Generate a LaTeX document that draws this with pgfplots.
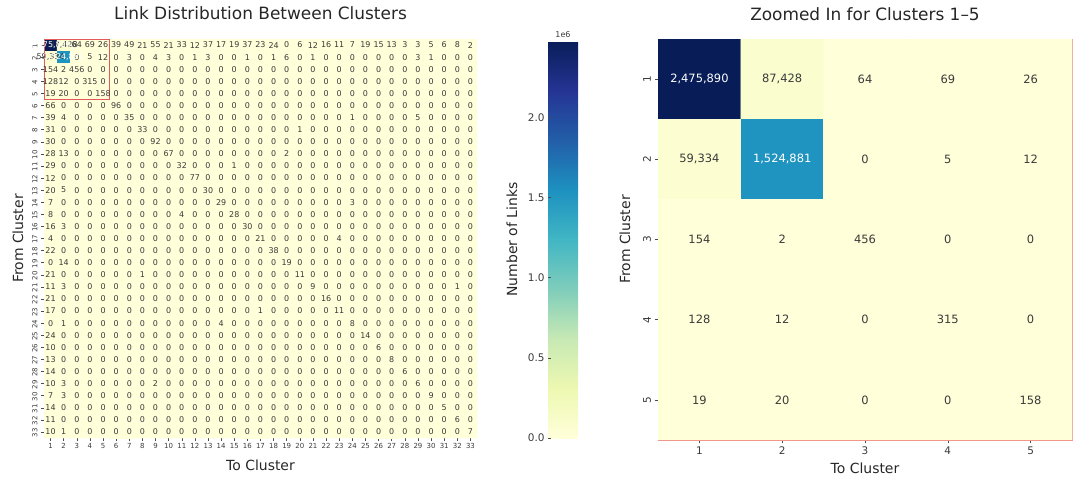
\documentclass[border=0pt]{standalone}
\usepackage{fontspec}
\setmainfont{DejaVu Sans}
\usepackage{pgfplots}
\usepackage{pgfplotstable}
\pgfplotsset{compat=1.18}
\pgfplotsset{
  colormap={ylgnbu}{rgb255=(255,255,217) rgb255=(237,248,177) rgb255=(199,233,180) rgb255=(127,205,187) rgb255=(65,182,196) rgb255=(29,145,192) rgb255=(34,94,168) rgb255=(37,52,148) rgb255=(8,29,88)}
}
\definecolor{annot}{HTML}{3A3A3A}
\definecolor{boxred}{RGB}{228,90,90}
\definecolor{framered}{RGB}{240,150,140}

% 33 x 33 matrix, row by row (From Cluster 1..33), columns To Cluster 1..33
\pgfplotstableread[row sep=\\]{
c\\
2475890\\87428\\64\\69\\26\\39\\49\\21\\55\\21\\33\\12\\37\\17\\19\\37\\23\\24\\0\\6\\12\\16\\11\\7\\19\\15\\13\\3\\3\\5\\6\\8\\2\\
59334\\1524881\\0\\5\\12\\0\\3\\0\\4\\3\\ 0\\1\\3\\0\\0\\1\\0\\1\\6\\0\\ 1\\0\\0\\0\\0\\0\\0\\0\\3\\1\\ 0\\0\\0\\
154\\2\\456\\0\\0\\0\\0\\0\\0\\0\\ 0\\0\\0\\0\\0\\0\\0\\0\\0\\0\\ 0\\0\\0\\0\\0\\0\\0\\0\\0\\0\\ 0\\0\\0\\
128\\12\\0\\315\\0\\0\\0\\0\\0\\0\\ 0\\0\\0\\0\\0\\0\\0\\0\\0\\0\\ 0\\0\\0\\0\\0\\0\\0\\0\\0\\0\\ 0\\0\\0\\
19\\20\\0\\0\\158\\0\\0\\0\\0\\0\\ 0\\0\\0\\0\\0\\0\\0\\0\\0\\0\\ 0\\0\\0\\0\\0\\0\\0\\0\\0\\0\\ 0\\0\\0\\
66\\0\\0\\0\\0\\96\\0\\0\\0\\0\\ 0\\0\\0\\0\\0\\0\\0\\0\\0\\0\\ 0\\0\\0\\0\\0\\0\\0\\0\\0\\0\\ 0\\0\\0\\
39\\4\\0\\0\\0\\0\\35\\0\\0\\0\\ 0\\0\\0\\0\\0\\0\\0\\0\\0\\0\\ 0\\0\\0\\1\\0\\0\\0\\0\\5\\0\\ 0\\0\\0\\
31\\0\\0\\0\\0\\0\\0\\33\\0\\0\\ 0\\0\\0\\0\\0\\0\\0\\0\\0\\1\\ 0\\0\\0\\0\\0\\0\\0\\0\\0\\0\\ 0\\0\\0\\
30\\0\\0\\0\\0\\0\\0\\0\\92\\0\\ 0\\0\\0\\0\\0\\0\\0\\0\\0\\0\\ 0\\0\\0\\0\\0\\0\\0\\0\\0\\0\\ 0\\0\\0\\
28\\13\\0\\0\\0\\0\\0\\0\\0\\67\\ 0\\0\\0\\0\\0\\0\\0\\0\\2\\0\\ 0\\0\\0\\0\\0\\0\\0\\0\\0\\0\\ 0\\0\\0\\
29\\0\\0\\0\\0\\0\\0\\0\\0\\0\\ 32\\0\\0\\0\\1\\0\\0\\0\\0\\0\\ 0\\0\\0\\0\\0\\0\\0\\0\\0\\0\\ 0\\0\\0\\
12\\0\\0\\0\\0\\0\\0\\0\\0\\0\\ 0\\77\\0\\0\\0\\0\\0\\0\\0\\0\\ 0\\0\\0\\0\\0\\0\\0\\0\\0\\0\\ 0\\0\\0\\
20\\5\\0\\0\\0\\0\\0\\0\\0\\0\\ 0\\0\\30\\0\\0\\0\\0\\0\\0\\0\\ 0\\0\\0\\0\\0\\0\\0\\0\\0\\0\\ 0\\0\\0\\
7\\0\\0\\0\\0\\0\\0\\0\\0\\0\\ 0\\0\\0\\29\\0\\0\\0\\0\\0\\0\\ 0\\0\\0\\3\\0\\0\\0\\0\\0\\0\\ 0\\0\\0\\
8\\0\\0\\0\\0\\0\\0\\0\\0\\0\\ 4\\0\\0\\0\\28\\0\\0\\0\\0\\0\\ 0\\0\\0\\0\\0\\0\\0\\0\\0\\0\\ 0\\0\\0\\
16\\3\\0\\0\\0\\0\\0\\0\\0\\0\\ 0\\0\\0\\0\\0\\30\\0\\0\\0\\0\\ 0\\0\\0\\0\\0\\0\\0\\0\\0\\0\\ 0\\0\\0\\
4\\0\\0\\0\\0\\0\\0\\0\\0\\0\\ 0\\0\\0\\0\\0\\0\\21\\0\\0\\0\\ 0\\0\\4\\0\\0\\0\\0\\0\\0\\0\\ 0\\0\\0\\
22\\0\\0\\0\\0\\0\\0\\0\\0\\0\\ 0\\0\\0\\0\\0\\0\\0\\38\\0\\0\\ 0\\0\\0\\0\\0\\0\\0\\0\\0\\0\\ 0\\0\\0\\
0\\14\\0\\0\\0\\0\\0\\0\\0\\0\\ 0\\0\\0\\0\\0\\0\\0\\0\\19\\0\\ 0\\0\\0\\0\\0\\0\\0\\0\\0\\0\\ 0\\0\\0\\
21\\0\\0\\0\\0\\0\\0\\1\\0\\0\\ 0\\0\\0\\0\\0\\0\\0\\0\\0\\11\\ 0\\0\\0\\0\\0\\0\\0\\0\\0\\0\\ 0\\0\\0\\
11\\3\\0\\0\\0\\0\\0\\0\\0\\0\\ 0\\0\\0\\0\\0\\0\\0\\0\\0\\0\\ 9\\0\\0\\0\\0\\0\\0\\0\\0\\0\\ 0\\1\\0\\
21\\0\\0\\0\\0\\0\\0\\0\\0\\0\\ 0\\0\\0\\0\\0\\0\\0\\0\\0\\0\\ 0\\16\\0\\0\\0\\0\\0\\0\\0\\0\\ 0\\0\\0\\
17\\0\\0\\0\\0\\0\\0\\0\\0\\0\\ 0\\0\\0\\0\\0\\0\\1\\0\\0\\0\\ 0\\0\\11\\0\\0\\0\\0\\0\\0\\0\\ 0\\0\\0\\
0\\1\\0\\0\\0\\0\\0\\0\\0\\0\\ 0\\0\\0\\4\\0\\0\\0\\0\\0\\0\\ 0\\0\\0\\8\\0\\0\\0\\0\\0\\0\\ 0\\0\\0\\
24\\0\\0\\0\\0\\0\\0\\0\\0\\0\\ 0\\0\\0\\0\\0\\0\\0\\0\\0\\0\\ 0\\0\\0\\0\\14\\0\\0\\0\\0\\0\\ 0\\0\\0\\
10\\0\\0\\0\\0\\0\\0\\0\\0\\0\\ 0\\0\\0\\0\\0\\0\\0\\0\\0\\0\\ 0\\0\\0\\0\\0\\6\\0\\0\\0\\0\\ 0\\0\\0\\
13\\0\\0\\0\\0\\0\\0\\0\\0\\0\\ 0\\0\\0\\0\\0\\0\\0\\0\\0\\0\\ 0\\0\\0\\0\\0\\0\\8\\0\\0\\0\\ 0\\0\\0\\
14\\0\\0\\0\\0\\0\\0\\0\\0\\0\\ 0\\0\\0\\0\\0\\0\\0\\0\\0\\0\\ 0\\0\\0\\0\\0\\0\\0\\6\\0\\0\\ 0\\0\\0\\
10\\3\\0\\0\\0\\0\\0\\0\\2\\0\\ 0\\0\\0\\0\\0\\0\\0\\0\\0\\0\\ 0\\0\\0\\0\\0\\0\\0\\0\\6\\0\\ 0\\0\\0\\
7\\3\\0\\0\\0\\0\\0\\0\\0\\0\\ 0\\0\\0\\0\\0\\0\\0\\0\\0\\0\\ 0\\0\\0\\0\\0\\0\\0\\0\\0\\9\\ 0\\0\\0\\
14\\0\\0\\0\\0\\0\\0\\0\\0\\0\\ 0\\0\\0\\0\\0\\0\\0\\0\\0\\0\\ 0\\0\\0\\0\\0\\0\\0\\0\\0\\0\\ 5\\0\\0\\
11\\0\\0\\0\\0\\0\\0\\0\\0\\0\\ 0\\0\\0\\0\\0\\0\\0\\0\\0\\0\\ 0\\0\\0\\0\\0\\0\\0\\0\\0\\0\\ 0\\6\\0\\
10\\1\\0\\0\\0\\0\\0\\0\\0\\0\\ 0\\0\\0\\0\\0\\0\\0\\0\\0\\0\\ 0\\0\\0\\0\\0\\0\\0\\0\\0\\0\\ 0\\0\\7\\
}\fulldata

% 5 x 5 zoomed block, row by row
\pgfplotstableread[row sep=\\]{
c\\
2475890\\87428\\64\\69\\26\\
59334\\1524881\\0\\5\\12\\
154\\2\\456\\0\\0\\
128\\12\\0\\315\\0\\
19\\20\\0\\0\\158\\
}\zoomdata

\begin{document}
\begin{tikzpicture}
\useasboundingbox (0,0) rectangle (1074bp,-480bp);

% ---------------- left heatmap ----------------
\begin{axis}[
  at={(44bp,-39bp)}, anchor=north west,
  scale only axis, width=433bp, height=399bp,
  xmin=0.5, xmax=33.5, ymin=0.5, ymax=33.5,
  enlargelimits=false,
  xtick={1,...,33}, ytick={1,...,33},
  yticklabels={33,32,31,30,29,28,27,26,25,24,23,22,21,20,19,18,17,16,15,14,13,12,11,10,9,8,7,6,5,4,3,2,1},
  /pgf/number format/assume math mode=true,
  tick label style={font=\fontsize{7}{7}\selectfont, text=annot},
  yticklabel style={rotate=90, anchor=south, xshift=-1bp},
  xticklabel style={yshift=1bp},
  tick align=outside, tick pos=left, major tick length=3bp,
  tick style={black!70, line width=0.5bp},
  axis line style={draw=none},
  colormap name=ylgnbu,
  point meta min=0, point meta max=2475890,
  title={Link Distribution Between Clusters},
  every axis title/.style={at={(0.5,1)}, anchor=base, yshift=19bp, font=\fontsize{17}{20}\selectfont, text=black!85},
  xlabel={To Cluster}, ylabel={From Cluster},
  every axis x label/.style={at={(0.5,0)}, anchor=base, yshift=-32bp, font=\fontsize{14}{16}\selectfont, text=black!85},
  every axis y label/.style={at={(0,0.5)}, xshift=-21bp, rotate=90, anchor=base, font=\fontsize{14}{16}\selectfont, text=black!85},
  colorbar,
  colorbar/width=30bp,
  colorbar style={
    at={(parent axis.north east)}, anchor=north west, xshift=62.5bp, yshift=-2bp,
    scale only axis, width=30bp, height=397bp,
    ymin=0, ymax=2475890,
    ytick={0,500000,1000000,1500000,2000000},
    yticklabels={0.0,0.5,1.0,1.5,2.0},
    scaled y ticks=false,
    yticklabel pos=left, ytick pos=left,
    yticklabel style={font=\fontsize{10.5}{12}\selectfont, text=annot},
    major tick length=3bp, tick style={black!70, line width=0.5bp},
    axis line style={draw=none},
    ylabel={Number of Links},
    every axis y label/.style={at={(0,0.5)}, xshift=-31bp, rotate=90, anchor=base, font=\fontsize{14}{16}\selectfont, text=black!85},
    title={1e6},
    every axis title/.style={at={(0.5,1)}, anchor=base, yshift=3bp, font=\fontsize{8}{9}\selectfont, text=annot},
  },
]
\addplot[matrix plot*, mesh/cols=33, point meta=explicit]
  table[x index=0, y index=0, x expr={\coordindex+1-33*floor((\coordindex+0.5)/33)}, y expr={33-floor((\coordindex+0.5)/33)}, meta=c]{\fulldata};
\addplot[draw=none, mark=none, point meta=explicit,
  nodes near coords={\pgfmathprintnumber[fixed,precision=0,1000 sep={,},assume math mode=true]{\pgfplotspointmeta}},
  every node near coord/.append style={font=\fontsize{8}{8}\selectfont, text=annot, anchor=center, inner sep=0pt},
  skip coords between index={0}{1}, skip coords between index={34}{35}]
  table[x index=0, y index=0, x expr={\coordindex+1-33*floor((\coordindex+0.5)/33)}, y expr={33-floor((\coordindex+0.5)/33)}, meta=c]{\fulldata};
\addplot[draw=none, mark=none, point meta=explicit,
  nodes near coords={\pgfmathprintnumber[fixed,precision=0,1000 sep={,},assume math mode=true]{\pgfplotspointmeta}},
  every node near coord/.append style={font=\fontsize{8}{8}\selectfont, text=white, anchor=center, inner sep=0pt}]
  coordinates {(1,33) [2475890] (2,32) [1524881]};
\draw[boxred, line width=1bp] (axis cs:0.5,33.5) rectangle (axis cs:5.5,28.5);
\end{axis}

% ---------------- right heatmap ----------------
\begin{axis}[
  at={(658bp,-39bp)}, anchor=north west,
  scale only axis, width=414bp, height=401bp,
  xmin=0.5, xmax=5.5, ymin=0.5, ymax=5.5,
  enlargelimits=false,
  xtick={1,...,5}, ytick={1,...,5},
  yticklabels={5,4,3,2,1},
  /pgf/number format/assume math mode=true,
  tick label style={font=\fontsize{10.5}{12}\selectfont, text=annot},
  yticklabel style={rotate=90, anchor=south},
  tick align=outside, tick pos=left, major tick length=3.5bp,
  tick style={black!70, line width=0.5bp},
  axis line style={draw=framered, line width=0.8bp},
  colormap name=ylgnbu,
  point meta min=0, point meta max=2475890,
  title={Zoomed In for Clusters 1–5},
  every axis title/.style={at={(0.5,1)}, anchor=base, yshift=19bp, font=\fontsize{17}{20}\selectfont, text=black!85},
  xlabel={To Cluster}, ylabel={From Cluster},
  every axis x label/.style={at={(0.5,0)}, anchor=base, yshift=-34bp, font=\fontsize{14}{16}\selectfont, text=black!85},
  every axis y label/.style={at={(0,0.5)}, xshift=-28bp, rotate=90, anchor=base, font=\fontsize{14}{16}\selectfont, text=black!85},
]
\addplot[matrix plot*, mesh/cols=5, point meta=explicit]
  table[x index=0, y index=0, x expr={\coordindex+1-5*floor((\coordindex+0.5)/5)}, y expr={5-floor((\coordindex+0.5)/5)}, meta=c]{\zoomdata};
\addplot[draw=none, mark=none, point meta=explicit,
  nodes near coords={\pgfmathprintnumber[fixed,precision=0,1000 sep={,},assume math mode=true]{\pgfplotspointmeta}},
  every node near coord/.append style={font=\fontsize{11.5}{13}\selectfont, text=annot, anchor=center, inner sep=0pt},
  skip coords between index={0}{1}, skip coords between index={6}{7}]
  table[x index=0, y index=0, x expr={\coordindex+1-5*floor((\coordindex+0.5)/5)}, y expr={5-floor((\coordindex+0.5)/5)}, meta=c]{\zoomdata};
\addplot[draw=none, mark=none, point meta=explicit,
  nodes near coords={\pgfmathprintnumber[fixed,precision=0,1000 sep={,},assume math mode=true]{\pgfplotspointmeta}},
  every node near coord/.append style={font=\fontsize{11.5}{13}\selectfont, text=white, anchor=center, inner sep=0pt}]
  coordinates {(1,5) [2475890] (2,4) [1524881]};
\end{axis}
\end{tikzpicture}
\end{document}
